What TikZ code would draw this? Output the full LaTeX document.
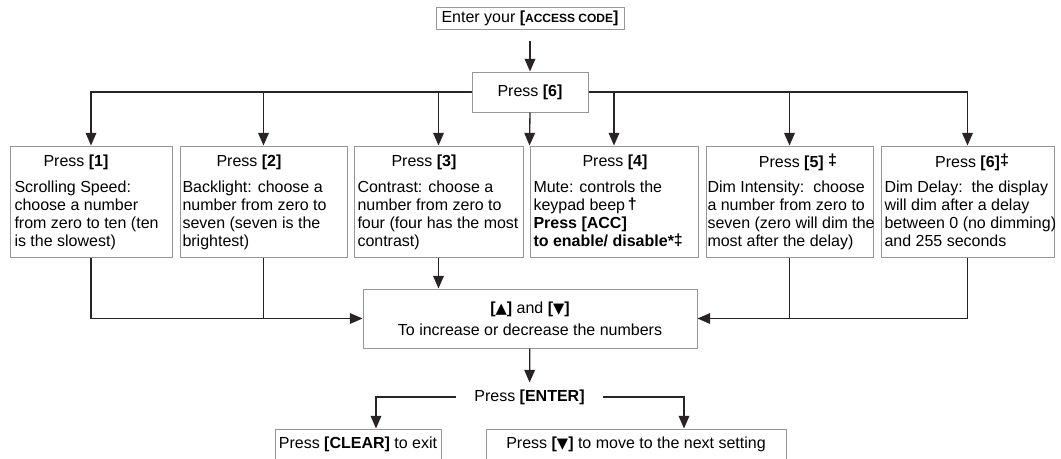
\documentclass[tikz,border=0pt]{standalone}
\usepackage{fontspec}
\setmainfont{Liberation Sans}
\newfontfamily\symfont{DejaVu Sans}
\newcommand{\uptri}{{\symfont\fontsize{11}{13.5}\selectfont ▲}}
\newcommand{\dntri}{{\symfont\fontsize{11}{13.5}\selectfont ▼}}
\usetikzlibrary{arrows.meta,calc}

\definecolor{boxline}{RGB}{150,150,150}
\definecolor{flowline}{RGB}{40,36,37}

\tikzset{every picture/.style={line width=0.75pt}}
\tikzset{
  setbox/.style={draw=boxline, line width=0.75pt, minimum height=83.25pt, inner sep=0pt},
  plainbox/.style={draw=boxline, line width=0.75pt, inner sep=0pt, align=center, font=\fontsize{12}{13.5}\selectfont},
  boxhead/.style={inner sep=0pt, font=\fontsize{12}{13.5}\selectfont},
  boxbody/.style={anchor=north west, inner sep=0pt, align=left, font=\fontsize{12}{13.5}\selectfont},
  flow/.style={draw=flowline, line width=1pt, -{Triangle[length=9.5pt,width=8pt]}},
  joint/.style={draw=flowline, line width=1pt},
}

\begin{document}
\begin{tikzpicture}[x=0.75pt,y=0.75pt,yscale=-1,xscale=1]
\useasboundingbox (0,0) rectangle (1061,458);
\clip (0,0) rectangle (1061,458);

%Shape: Rectangle [code]
\node[plainbox, minimum width=141pt, minimum height=16.5pt] (code) at (530,18) {Enter your \textbf{[{\fontsize{9}{10}\selectfont ACCESS CODE}]}};
%Shape: Rectangle [press6]
\node[plainbox, minimum width=87pt, minimum height=30pt] (press6) at (530,92) {Press \textbf{[6]}};

%Shape: Rectangle [setting boxes]
\node[setbox, minimum width=121.5pt] (b1) at (91,201.5) {};
\node[setbox, minimum width=125.25pt] (b2) at (263.5,201.5) {};
\node[setbox, minimum width=126.75pt] (b3) at (438.5,201.5) {};
\node[setbox, minimum width=126pt] (b4) at (614,201.5) {};
\node[setbox, minimum width=125.25pt] (b5) at (789.5,201.5) {};
\node[setbox, minimum width=129.75pt] (b6) at (967.5,201.5) {};

% Text Node
\node[boxhead] (t1) at (76,162) {Press \textbf{[1]}};
\node[boxhead] (t2) at (249,162) {Press \textbf{[2]}};
\node[boxhead] (t3) at (424,162) {Press \textbf{[3]}};
\node[boxhead] (t4) at (615,162) {Press \textbf{[4]}};
\node[boxhead] (t5) at (798,162) {Press \textbf{[5]} \raisebox{1.5pt}{\large\textbf{‡}}};
\node[boxhead] (t6) at (972,162) {Press \textbf{[6]}\raisebox{1.5pt}{\large\textbf{‡}}};

% Text Node
\node[boxbody] (d1) at (14,180) {Scrolling Speed:\\choose a number\\from zero to ten (ten\\is the slowest)};
\node[boxbody] (d2) at (182,180) {Backlight: choose a\\number from zero to\\seven (seven is the\\brightest)};
\node[boxbody] (d3) at (357,180) {Contrast: choose a\\number from zero to\\four (four has the most\\contrast)};
\node[boxbody] (d4) at (533,180) {Mute: controls the\\keypad beep\,\raisebox{0.5pt}{\large\textbf{†}}\\\textbf{Press [ACC]}\\\textbf{to enable/ disable*}\raisebox{0.5pt}{\large\textbf{‡}}};
\node[boxbody] (d5) at (707,180) {Dim Intensity:\ \ choose\\a number from zero to\\seven (zero will dim the\\most after the delay)};
\node[boxbody] (d6) at (884,180) {Dim Delay:\ \ the display\\will dim after a delay\\between 0 (no dimming)\\and 255 seconds};

%Shape: Rectangle [adjust]
\node[plainbox, minimum width=250.5pt, minimum height=44.25pt] (adjust) at (530,318.5) {\textbf{[}\uptri\textbf{]} and \textbf{[}\dntri\textbf{]}\\[3pt]To increase or decrease the numbers};
% Text Node
\node[boxhead, inner xsep=13.5pt, inner ysep=4.9pt] (enter) at (529.5,397) {Press \textbf{[ENTER]}};
%Shape: Rectangle [exit and next]
\node[plainbox, minimum width=124.5pt, minimum height=22.5pt] (clear) at (358,444) {Press \textbf{[CLEAR]} to exit};
\node[plainbox, minimum width=225pt, minimum height=22.5pt] (next) at (636,444) {Press \textbf{[}\dntri\textbf{]} to move to the next setting};

%Straight Lines
\draw[flow, shorten <=8.25pt] (code) -- (press6);
\draw[flow] (press6.west) -| (b1.north);
\draw[flow] (press6.west) -| (b2.north);
\draw[flow] (press6.west) -| (b3.north);
\draw[flow] (press6.east) -| (b4.north);
\draw[flow] (press6.east) -| (b5.north);
\draw[flow] (press6.east) -| (b6.north);
\draw[flow] (press6.south) -- (b4.north west);

%Straight Lines
\draw[flow] (b1.south) |- (adjust.west);
\draw[joint] (b2.south) -- (b2.south |- adjust.west);
\draw[flow] (b3.south) -- (b3.south |- adjust.north);
\draw[flow] (b6.south) |- (adjust.east);
\draw[joint] (b5.south) -- (b5.south |- adjust.east);
\draw[flow] (adjust) -- (enter);
\draw[flow] (enter.west) -| ($(clear.north)+(18,0)$);
\draw[flow] (enter.east) -| ($(next.north)+(48,0)$);

\end{tikzpicture}
\end{document}
